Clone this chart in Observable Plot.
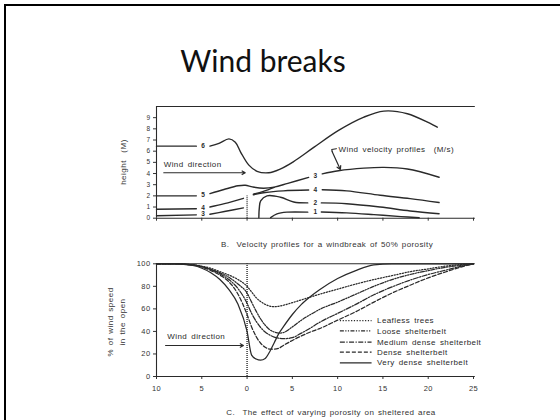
<!DOCTYPE html>
<html><head><meta charset="utf-8">
<script src="https://cdn.jsdelivr.net/npm/d3@7"></script>
<script src="https://cdn.jsdelivr.net/npm/@observablehq/plot@0.6"></script>
<style>
html,body{margin:0;padding:0;background:#fff;}
#slide{position:relative;width:560px;height:420px;overflow:hidden;background:#fff;}
#frame{position:absolute;left:4px;top:4px;width:700px;height:700px;border:2px solid #000;}
.abs{position:absolute;}
#title{left:0;width:526px;top:45px;text-align:center;font-family:Lato,"Open Sans",sans-serif;font-size:30px;line-height:30px;color:#111;}
.cap{font-family:"Liberation Sans",sans-serif;font-size:8px;letter-spacing:0.4px;word-spacing:1px;color:#333;white-space:nowrap;transform:translate(-50%,-50%);}
.ylab{font-family:"Liberation Sans",sans-serif;font-size:8px;letter-spacing:0.5px;word-spacing:1px;color:#333;white-space:nowrap;transform:translate(-50%,-50%) rotate(-90deg);}
</style></head><body>
<div id="slide">
  <div id="frame"></div>
  <div id="title" class="abs">Wind breaks</div>
  <div id="topChart" class="abs" style="left:0;top:90px"></div>
  <div id="bottomChart" class="abs" style="left:0;top:250px"></div>
  <div class="abs ylab" style="left:123px;top:162px">height&nbsp;&nbsp;(M)</div>
  <div class="abs ylab" style="left:110px;top:322px">% of wind speed</div>
  <div class="abs ylab" style="left:122px;top:322px">in the open</div>
  <div class="abs cap" style="left:327px;top:244px">B.&nbsp;&nbsp;Velocity profiles for a windbreak of 50% porosity</div>
  <div class="abs cap" style="left:331px;top:412px">C.&nbsp;&nbsp;The effect of varying porosity on sheltered area</div>
</div>
<script>
// ---------- shared ----------
const distanceTicks = [-10, -5, 0, 5, 10, 15, 20, 25];
const heightTicks = [0, 1, 2, 3, 4, 5, 6, 7, 8, 9];
const speedTicks = [0, 20, 40, 60, 80, 100];
const ink = "#2a2a2a";

// ---------- panel B: velocity contours [distance, height] ----------
const contour6Left  = [[-10, 6.45], [-5.6, 6.45]];
const contour6Right = [[-4.1, 6.45], [-3.1, 6.7], [-2.0, 7.1], [-1.3, 6.8], [-0.7, 5.9], [0.2, 4.75], [1.1, 4.2], [2.4, 4.07], [3.65, 4.4], [5.1, 5.05], [7.4, 6.36], [10.1, 7.86], [12.9, 9.05], [15.1, 9.59], [17.7, 9.35], [21, 8.15]];
const contour5Left  = [[-10, 2.0], [-5.6, 2.0]];
const contour5Mid   = [[-4.1, 2.2], [-2.55, 2.57], [-1.0, 2.9], [-0.2, 2.95], [0.6, 2.8], [1.8, 2.68], [3.0, 2.78], [4.5, 3.12], [6.8, 3.65]];
const contour5Lee   = [[0.7, 2.15], [1.8, 2.4], [3.0, 2.76]];
const contour5Right = [[8.3, 3.97], [10.1, 4.25], [12.9, 4.48], [15.1, 4.55], [17.7, 4.4], [21.2, 3.67]];
const contour4Left  = [[-10, 0.8], [-5.6, 0.85]];
const contour4Mid   = [[-4.1, 1.0], [-2.5, 1.3], [-0.4, 1.78]];
const contour4Lee   = [[0.7, 2.1], [2, 2.3], [4, 2.45], [6.8, 2.52]];
const contour4Right = [[8.3, 2.55], [11, 2.45], [14.7, 2.05], [18, 1.75], [21.2, 1.4]];
const contour3Left  = [[-10, 0.22], [-5.6, 0.3]];
const contour3Mid   = [[-4.1, 0.35], [-2.5, 0.6], [-0.4, 0.92]];
const contour2Lee   = [[1.3, 0.05], [1.35, 0.9], [1.5, 1.55], [2.2, 2.0], [3.7, 1.88], [5.15, 1.45], [6.7, 1.37]];
const contour2Right = [[8.2, 1.37], [11, 1.3], [14.7, 1.0], [18, 0.65], [21.2, 0.4]];
const contour1Lee   = [[2.6, 0.05], [3.3, 0.39], [4.4, 0.54], [6.7, 0.54]];
const contour1Right = [[8.2, 0.56], [11, 0.48], [14, 0.32], [17, 0.14], [19, 0.04]];
const topContours = [contour6Left, contour6Right, contour5Left, contour5Mid, contour5Lee, contour5Right,
  contour4Left, contour4Mid, contour4Lee, contour4Right, contour3Left, contour3Mid,
  contour2Lee, contour2Right, contour1Lee, contour1Right];

const contourLabels = ["6", "5", "4", "3", "3", "4", "2", "1"];
const contourLabelX = [-4.85, -4.85, -4.85, -4.85, 7.55, 7.55, 7.55, 7.55];
const contourLabelY = [6.45, 2.1, 0.93, 0.38, 3.82, 2.52, 1.37, 0.52];

const windbreakTop = [0];        // windbreak position
const windbreakHeight = 2.0;     // windbreak height (m)

// annotations panel B
const topWindText = {x: -9.2, y: 4.85, text: "Wind direction"};
const topWindArrow = {x1: -9.2, x2: -0.2, y: 4.07};
const profileText = {x: 10.1, y: 6.2, text: "Wind velocity profiles  (M/s)"};
const profileHook = [[9.85, 6.22], [9.35, 6.15], [9.4, 5.95]];
const profileArrow = {x1: 9.4, y1: 5.95, x2: 10.3, y2: 4.36};

// ---------- panel C: wind speed behind windbreaks ----------
const distance   = [-10, -8, -6, -4, -3, -2, -1, 0, 0.5, 1, 1.5, 2, 2.5, 3, 3.5, 4, 5, 6, 7, 8, 10, 12, 14, 16, 18, 20, 22, 24, 25];
const leafless   = [100, 100, 99, 96, 93, 90, 86, 80, 75, 70, 66.5, 64, 62.5, 62, 62.3, 63.2, 65.5, 68, 70.5, 73, 77.5, 82, 86, 89.5, 93, 95.5, 98, 99.6, 100];
const loose      = [100, 100, 99, 95, 92, 88, 82, 74, 66, 58, 51, 45.5, 41.5, 39.5, 38.5, 39, 44, 50, 55, 59.5, 66, 73, 80, 86, 90.5, 94, 97, 99, 100];
const medium     = [100, 100, 99, 95, 91, 86, 78, 65, 56, 49, 43.5, 39.5, 36.8, 35, 34, 33.5, 34.5, 38.5, 43, 48, 56, 64, 72.5, 79.5, 85.5, 90.5, 94.5, 98.5, 100];
const dense      = [100, 100, 99, 94, 90, 84, 73, 55, 44, 35.5, 29.5, 26, 24.3, 24.3, 25, 27.5, 32, 36, 39.5, 42.5, 50, 57.5, 66, 74, 81, 87.5, 93, 98, 100];
const veryDense  = [100, 100, 98.5, 92, 86, 77, 64, 40, 19, 15.5, 14.5, 16, 22, 30, 38, 44, 55, 64, 71, 77, 87, 94, 99, 100, 100, 100, 100, 100, 100];
const seriesNames  = ["Leafless trees", "Loose shelterbelt", "Medium dense shelterbelt", "Dense shelterbelt", "Very dense shelterbelt"];
const seriesValues = [leafless, loose, medium, dense, veryDense];
const seriesDashes = ["1.2,1.6", "4,1.4,1.2,1.4,1.2,1.4", "5,1.5,1.2,1.5", "4,2", null];

// legend placement (data units)
const legendY = [49.6, 40.4, 30.5, 21.6, 12.2];
const legendLineX = [10.3, 13.8];
const legendTextX = 14.35;

const bottomWindText = {x: -8.8, y: 35.5, text: "Wind direction"};
const bottomWindArrow = {x1: -9.0, x2: -0.4, y: 27.5};

const textStyle = {fontFamily: "Liberation Sans, sans-serif", color: "#333", background: "transparent", overflow: "visible", letterSpacing: "0.4px", wordSpacing: "1.5px"};

// ---------- build panel B ----------
const lineMarks = topContours.map(seg => Plot.line(seg, {
  x: d => d[0], y: d => d[1], curve: "catmull-rom", stroke: ink, strokeWidth: 1.4
}));

const topChart = Plot.plot({
  width: 560, height: 140,
  marginLeft: 156, marginRight: 87, marginTop: 16, marginBottom: 12.3,
  style: {...textStyle, fontSize: "6.5px"},
  x: {domain: [-10, 25], ticks: distanceTicks, tickSize: 3, tickFormat: () => "", label: null},
  y: {domain: [0, 10], ticks: heightTicks, tickSize: 3, tickPadding: 3, label: null},
  marks: [
    Plot.ruleX([-10], {y1: 0, y2: 10, stroke: ink, strokeWidth: 1.1}),
    Plot.ruleY([0], {x1: -10, x2: 25.2, stroke: ink, strokeWidth: 1.1}),
    Plot.ruleY([10], {x1: -10, x2: 25.2, stroke: ink, strokeWidth: 1.1}),
    Plot.ruleX(windbreakTop, {y1: 0, y2: windbreakHeight, stroke: ink, strokeWidth: 1.3, strokeDasharray: "1,1"}),
    ...lineMarks,
    Plot.text(contourLabels, {x: (d, i) => contourLabelX[i], y: (d, i) => contourLabelY[i], text: d => d, fontSize: 6.5, fontWeight: "bold", fill: ink}),
    Plot.text([topWindText], {x: "x", y: "y", text: "text", textAnchor: "start", fontSize: 8, fill: ink}),
    Plot.arrow([topWindArrow], {x1: "x1", x2: "x2", y1: "y", y2: "y", stroke: ink, strokeWidth: 1.1, headLength: 5}),
    Plot.text([profileText], {x: "x", y: "y", text: "text", textAnchor: "start", fontSize: 8, fill: ink}),
    Plot.line(profileHook, {x: d => d[0], y: d => d[1], stroke: ink, strokeWidth: 1.2}),
    Plot.arrow([profileArrow], {x1: "x1", y1: "y1", x2: "x2", y2: "y2", stroke: ink, strokeWidth: 1.2, headLength: 5})
  ]
});
document.getElementById("topChart").append(topChart);

// ---------- build panel C ----------
const seriesMarks = seriesValues.map((vals, i) => Plot.line(distance, {
  x: d => d, y: (d, j) => vals[j], curve: "monotone-x", stroke: ink, strokeWidth: 1.25,
  strokeDasharray: seriesDashes[i] || undefined
}));
const legendMarks = seriesNames.flatMap((name, i) => [
  Plot.ruleY([legendY[i]], {x1: legendLineX[0], x2: legendLineX[1], stroke: ink, strokeWidth: 1.25, strokeDasharray: seriesDashes[i] || undefined}),
  Plot.text([name], {x: legendTextX, y: legendY[i], text: d => d, textAnchor: "start", fontSize: 8, fill: ink})
]);

const bottomChart = Plot.plot({
  width: 560, height: 150,
  marginLeft: 156, marginRight: 87, marginTop: 13.3, marginBottom: 24,
  style: {...textStyle, fontSize: "7.5px"},
  x: {domain: [-10, 25], ticks: distanceTicks, tickSize: 3, tickPadding: 6, tickFormat: d => String(Math.abs(d)), label: null},
  y: {domain: [0, 100], ticks: speedTicks, tickSize: 3, tickPadding: 3, label: null},
  marks: [
    Plot.ruleX([-10], {y1: 0, y2: 100, stroke: ink, strokeWidth: 1.1}),
    Plot.ruleY([0], {x1: -10, x2: 25.2, stroke: ink, strokeWidth: 1.1}),
    Plot.ruleY([100], {x1: -10, x2: 25.2, stroke: ink, strokeWidth: 1.1}),
    Plot.ruleX(windbreakTop, {y1: 0, y2: 100, stroke: ink, strokeWidth: 1.4, strokeDasharray: "1,1"}),
    ...seriesMarks,
    ...legendMarks,
    Plot.text([bottomWindText], {x: "x", y: "y", text: "text", textAnchor: "start", fontSize: 8, fill: ink}),
    Plot.arrow([bottomWindArrow], {x1: "x1", x2: "x2", y1: "y", y2: "y", stroke: ink, strokeWidth: 1.1, headLength: 5})
  ]
});
document.getElementById("bottomChart").append(bottomChart);
</script>
</body></html>
